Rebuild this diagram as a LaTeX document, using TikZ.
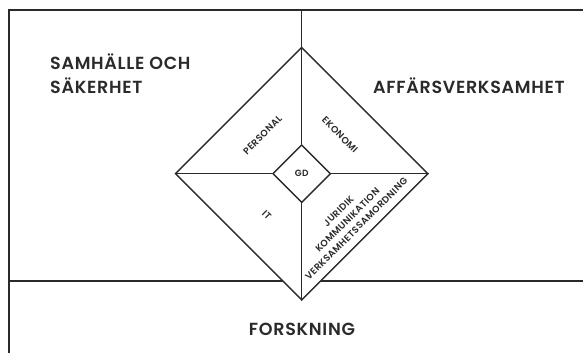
\documentclass[tikz,border=0pt]{standalone}
\usepackage{fontspec}
\setmainfont{Poppins}[UprightFont=* Medium, BoldFont=* SemiBold]
\newfontfamily\headfont{Poppins}[UprightFont=* SemiBold, LetterSpace=4]
\newfontfamily\labfont{Poppins}[UprightFont=* SemiBold, LetterSpace=4]
\usetikzlibrary{shapes.geometric}
\definecolor{ink}{HTML}{2A2A2A}
\tikzset{
  frame/.style={draw=ink, line width=1.4pt},
  big/.style={font=\headfont\fontsize{17.5}{24}\selectfont, text=ink, inner sep=0pt},
  small/.style={font=\labfont\fontsize{9.4}{12.5}\selectfont, text=ink, inner sep=0pt, align=center},
}
\begin{document}
\begin{tikzpicture}[x=1pt,y=-1pt]
\useasboundingbox (0,0) rectangle (583,353);
% frame
\coordinate (fTL) at (9,10);
\coordinate (fBL) at (9,353);
\coordinate (fTR) at (583,10);
\coordinate (hL) at (9,281);
\coordinate (hR) at (583,281);
\coordinate (vT) at (301.7,10);
\draw[frame] (fBL) -- (fTL) -- (fTR);
\draw[frame] (hL) -- (hR);
% diamond
\node[diamond, frame, fill=white, minimum width=253pt, minimum height=253pt, inner sep=0pt, aspect=1] (D) at (301.7,173.7) {};
\node[diamond, frame, fill=white, minimum width=58pt, minimum height=58pt, inner sep=0pt, aspect=1, font=\headfont\fontsize{9}{9}\selectfont, text=ink] (G) at (301.7,173.7) {GD};
\draw[frame] (vT) -- (D.north);
\draw[frame] (G.north) -- (D.north);
\draw[frame] (G.south) -- (D.south);
\draw[frame] (G.west) -- (D.west);
\draw[frame] (G.east) -- (D.east);
% labels
\node[big, anchor=base west, align=left] (SAM) at (50,93) {SAMHÄLLE OCH\\SÄKERHET};
\node[big, anchor=base west] (AFF) at (373,93) {AFFÄRSVERKSAMHET};
\node[big, anchor=base] (FOR) at (302,335) {FORSKNING};
\node[small, rotate=45] (PER) at (262.5,135) {PERSONAL};
\node[small, rotate=-45] (EKO) at (340,135) {EKONOMI};
\node[small, rotate=-45] (IT) at (266.7,215) {IT};
\node[small, rotate=45] (JUR) at (347.5,220) {JURIDIK\\KOMMUNIKATION\\VERKSAMHETSSAMORDNING};
\end{tikzpicture}
\end{document}
